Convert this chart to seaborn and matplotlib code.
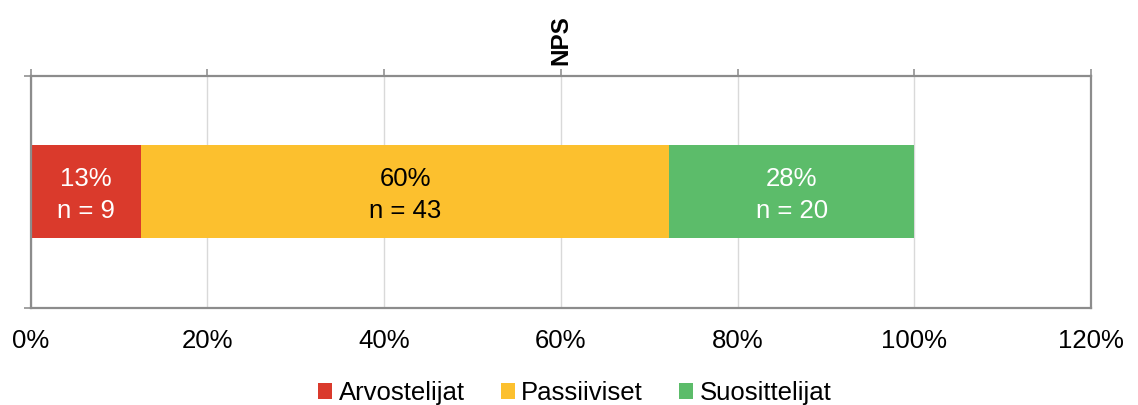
import numpy as np
import pandas as pd
import matplotlib
matplotlib.use("Agg")
import matplotlib.pyplot as plt
import seaborn as sns
from matplotlib.patches import Patch

# NPS respondent groups and their counts
groups = ["Arvostelijat", "Passiiviset", "Suosittelijat"]
counts = [9, 43, 20]
colors = ["#DA3A2C", "#FCC02E", "#5CBC6A"]
label_colors = ["white", "black", "white"]
x_ticks = [0, 20, 40, 60, 80, 100, 120]
title = "NPS"

sns.set_theme(style="white")
plt.rcParams["font.family"] = ["Liberation Sans", "DejaVu Sans"]
plt.rcParams["text.color"] = "black"

FS = 18.5
SPINE = "#8C8C8C"

total = sum(counts)
shares = np.array([100.0 * c / total for c in counts])
ends = np.cumsum(shares)
starts = ends - shares

df = pd.DataFrame({"group": groups, "share": shares, "start": starts,
                   "end": ends, "row": title})

fig = plt.figure(figsize=(11.38, 4.05), dpi=100)
ax = fig.add_axes([0.027, 0.2402, 0.9317, 0.5728])

# Stacked bar: draw cumulative totals from the widest segment down
for i in reversed(range(len(groups))):
    sns.barplot(data=df.iloc[[i]], x="end", y="row", orient="h",
                color=colors[i], width=0.4, saturation=1, errorbar=None,
                linewidth=0, edgecolor="none", ax=ax, zorder=2)

# Segment labels: rounded share and count
for s, e, sh, c, tc in zip(starts, ends, shares, counts, label_colors):
    pct = int(np.floor(sh + 0.5))
    ax.annotate(f"{pct}%\nn = {c}", xy=((s + e) / 2, 0), xycoords="data",
                xytext=(0, -2.5), textcoords="offset points",
                ha="center", va="center", color=tc, fontsize=FS, zorder=3,
                linespacing=1.4)

ax.set_xlim(0, 120)
ax.set_ylim(0.5, -0.5)
ax.set_xticks(x_ticks)
ax.set_xticklabels([f"{t}%" for t in x_ticks])
ax.set_yticks([-0.5, 0.5])
ax.set_yticklabels(["", ""])
ax.set_xlabel("")
ax.set_ylabel("")

ax.xaxis.grid(True, color="#D9D9D9", linewidth=1.0)
ax.yaxis.grid(False)
ax.set_axisbelow(True)

ax.tick_params(axis="x", which="both", top=True, bottom=False,
               labeltop=False, labelbottom=True, direction="out",
               length=5, width=1.3, color="#9A9A9A", pad=10.5,
               labelsize=FS, labelcolor="black")
ax.tick_params(axis="y", left=True, direction="out", length=5, width=1.3,
               color="#9A9A9A", labelleft=False)

for sp in ax.spines.values():
    sp.set_visible(True)
    sp.set_color(SPINE)
    sp.set_linewidth(1.6)

ax.annotate(title, xy=(0.5, 1), xycoords="axes fraction", xytext=(0, 7.5),
            textcoords="offset points", rotation=90, ha="center", va="bottom",
            fontweight="bold", fontsize=17.5, color="black")

handles = [Patch(facecolor=c, edgecolor="none") for c in colors]
fig.legend(handles, groups, loc="center", bbox_to_anchor=(0.505, 1 - 393 / 405),
           ncol=3, frameon=False, fontsize=FS, handlelength=0.55,
           handleheight=0.55, handletextpad=0.25, columnspacing=1.4,
           borderaxespad=0, borderpad=0, labelcolor="black")

fig.savefig("out.png", dpi=100, facecolor="white")
